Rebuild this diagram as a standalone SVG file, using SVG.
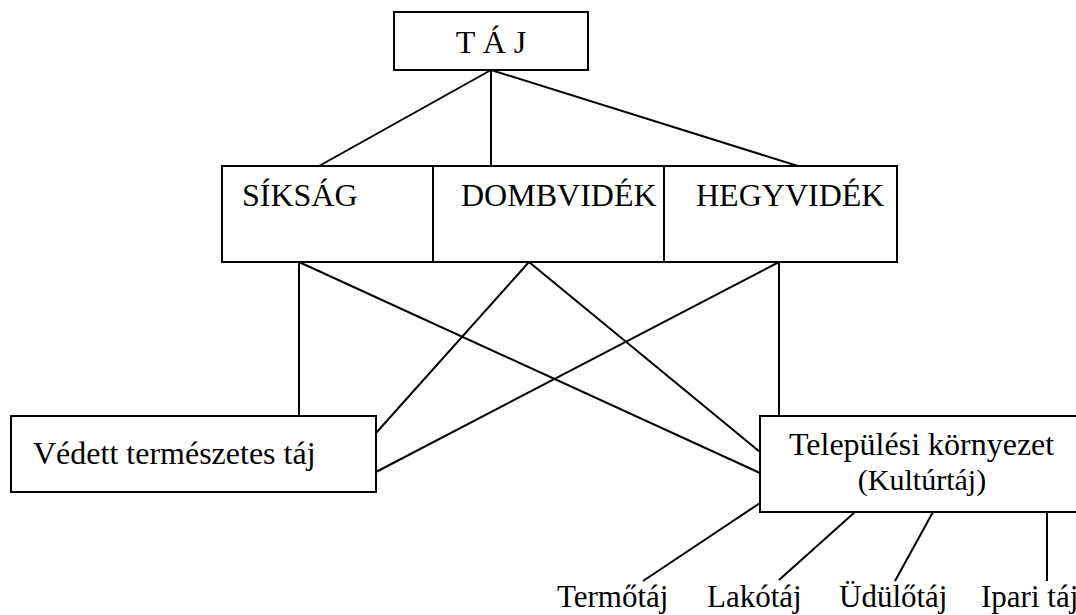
<svg xmlns="http://www.w3.org/2000/svg" width="1076" height="615" viewBox="0 0 1076 615">
<style>
.box{fill:#fff;stroke:#000;stroke-width:2}
.ln{stroke:#000;stroke-width:2;fill:none}
text{font-family:"Liberation Serif","Times New Roman",serif;font-size:32px;fill:#000}
.sm{font-size:30px}
.lb{font-size:31px}
</style>
<rect width="1076" height="615" fill="#fff"/>
<g id="connectors">
<line class="ln" x1="491" y1="70" x2="319" y2="166"/>
<line class="ln" x1="491" y1="70" x2="491" y2="166"/>
<line class="ln" x1="491" y1="70" x2="798" y2="166"/>
<line class="ln" x1="299" y1="262" x2="299" y2="416"/>
<line class="ln" x1="299" y1="262" x2="760" y2="473"/>
<line class="ln" x1="529" y1="262" x2="376" y2="433"/>
<line class="ln" x1="529" y1="262" x2="760" y2="452"/>
<line class="ln" x1="779" y1="262" x2="376" y2="472"/>
<line class="ln" x1="779" y1="262" x2="779" y2="416"/>
<line class="ln" x1="760" y1="503" x2="643" y2="581"/>
<line class="ln" x1="855" y1="512" x2="779" y2="580"/>
<line class="ln" x1="933" y1="512" x2="895" y2="581"/>
<line class="ln" x1="1047" y1="512" x2="1047" y2="581"/>
</g>
<g id="taj">
<rect class="box" x="394" y="12" width="194" height="58"/>
<text x="491" y="53" text-anchor="middle">T Á J</text>
</g>
<g id="siksag">
<rect class="box" x="222" y="166" width="211" height="96"/>
<text x="242" y="206">SÍKSÁG</text>
</g>
<g id="dombvidek">
<rect class="box" x="433" y="166" width="231" height="96"/>
<text x="461" y="206">DOMBVIDÉK</text>
</g>
<g id="hegyvidek">
<rect class="box" x="664" y="166" width="233" height="96"/>
<text x="696" y="206">HEGYVIDÉK</text>
</g>
<g id="vedett">
<rect class="box" x="11" y="416" width="365" height="76"/>
<text x="33" y="464">Védett természetes táj</text>
</g>
<g id="telepulesi">
<rect class="box" x="760" y="416" width="340" height="96"/>
<text x="789" y="455">Települési környezet</text>
<text class="sm" x="922" y="490" text-anchor="middle">(Kultúrtáj)</text>
</g>
<g id="termotaj"><text class="lb" x="557" y="607">Termőtáj</text></g>
<g id="lakotaj"><text class="lb" x="707" y="607">Lakótáj</text></g>
<g id="udulotaj"><text class="lb" x="839" y="607">Üdülőtáj</text></g>
<g id="iparitaj"><text class="lb" x="981" y="607">Ipari táj</text></g>
</svg>
